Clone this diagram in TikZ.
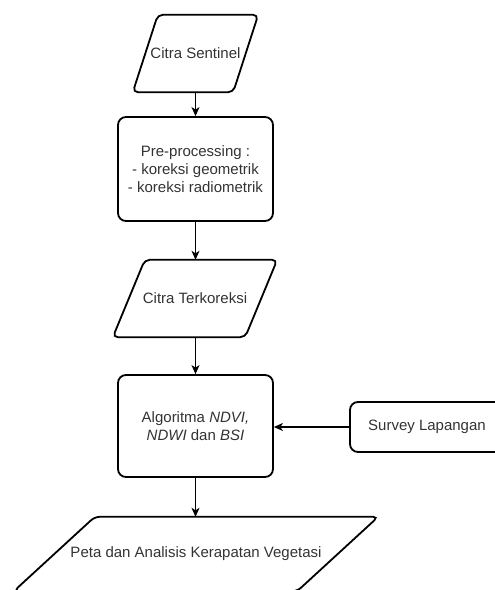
\documentclass[tikz,border=0pt]{standalone}
\usepackage{fontspec}
\setmainfont{Liberation Sans}
\usetikzlibrary{arrows.meta}
\definecolor{txt}{RGB}{51,51,51}
\begin{document}
\begin{tikzpicture}[x=1pt,y=-1pt,
  shapeline/.style={draw=black, line width=1.8pt, rounded corners=5pt},
  boxnode/.style={draw=black, line width=1.8pt, rounded corners=8pt, align=center, inner sep=0pt, text=txt, font=\fontsize{15}{18}\selectfont},
  paranode/.style={align=center, inner sep=0pt, text=txt, font=\fontsize{15}{18}\selectfont},
  conn/.style={draw=black, line width=1.2pt, -{Stealth[length=9pt,width=8pt,inset=2.5pt]}}]
\useasboundingbox (0,0) rectangle (495,590);
\clip (0,0) rectangle (495,590);

% nodes
\node[paranode, minimum width=125pt, minimum height=77pt] (cs) at (195.5,53.5) {Citra Sentinel};
\node[boxnode, minimum width=155pt, minimum height=104pt] (pre) at (195.5,169) {Pre-processing :\\- koreksi geometrik\\- koreksi radiometrik};
\node[paranode, minimum width=164pt, minimum height=77pt] (ct) at (195,298.5) {Citra Terkoreksi};
\node[boxnode, minimum width=155pt, minimum height=102pt] (alg) at (195.5,426) {Algoritma \textit{NDVI,}\\\textit{NDWI} dan \textit{BSI}};
\node[boxnode, minimum width=154pt, minimum height=50pt] (sv) at (427,427) {Survey Lapangan};
\node[paranode, minimum width=364pt, minimum height=74pt] (peta) at (196,554) {Peta dan Analisis Kerapatan Vegetasi};

% parallelogram outlines
\draw[shapeline] ([xshift=25pt]cs.north west) -- (cs.north east) -- ([xshift=-25pt]cs.south east) -- (cs.south west) -- cycle;
\draw[shapeline] ([xshift=32pt]ct.north west) -- (ct.north east) -- ([xshift=-32pt]ct.south east) -- (ct.south west) -- cycle;
\draw[shapeline] ([xshift=81pt]peta.north west) -- (peta.north east) -- ([xshift=-81pt]peta.south east) -- (peta.south west) -- cycle;

% connectors
\draw[conn] (cs.south) -- (pre.north);
\draw[conn] (pre.south) -- (pre.south |- ct.north);
\draw[conn] (pre.south |- ct.south) -- (alg.north);
\draw[conn] (alg.south) -- (alg.south |- peta.north);
\draw[conn] (sv.west) -- (sv.west -| alg.east);
\end{tikzpicture}
\end{document}
